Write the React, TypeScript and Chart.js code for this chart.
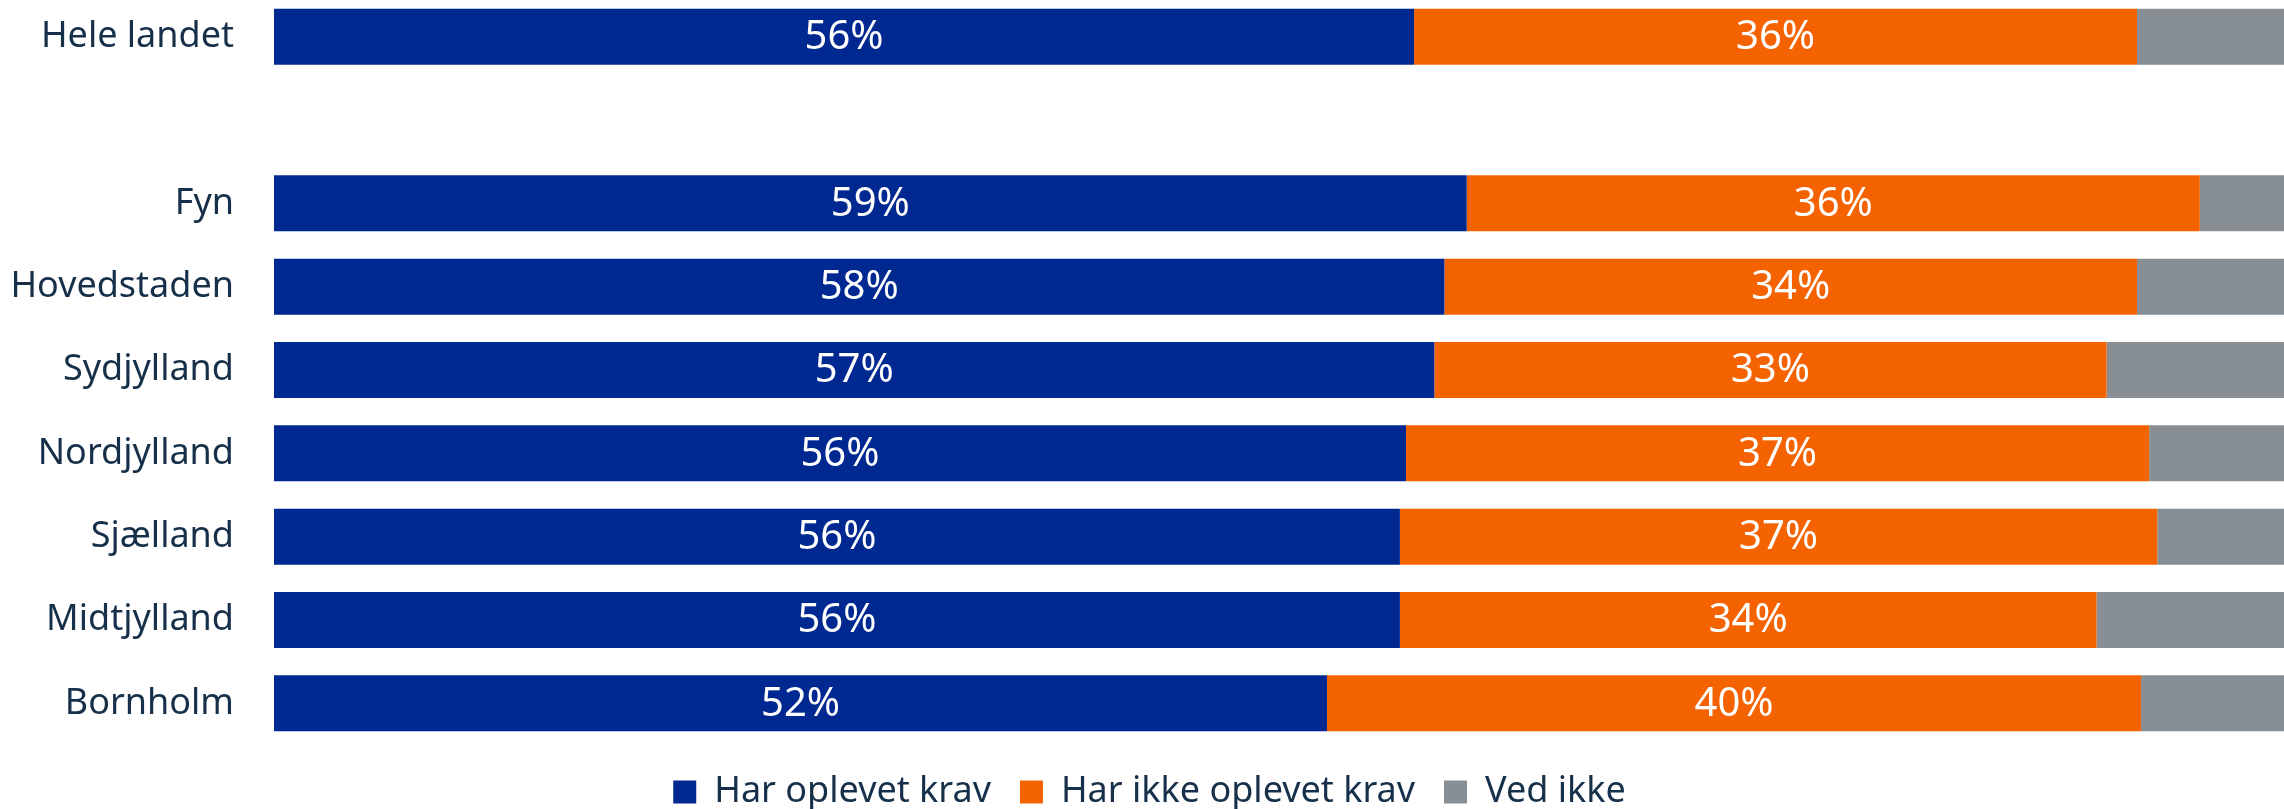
import React, { useEffect, useRef } from 'react';
import { Chart, registerables } from 'chart.js';

Chart.register(...registerables);

// Categories (the empty one is the spacer row between the national total and the regions)
const categories = ['Hele landet', '', 'Fyn', 'Hovedstaden', 'Sydjylland', 'Nordjylland', 'Sjælland', 'Midtjylland', 'Bornholm'];

// Series values (percent of respondents)
const harOplevetKrav = [56.3, null, 58.9, 57.8, 57.3, 55.9, 55.6, 55.6, 52.0];
const harIkkeOplevetKrav = [35.7, null, 36.2, 34.2, 33.2, 36.7, 37.4, 34.4, 40.2];
const vedIkke = [8.0, null, 4.9, 8.0, 9.5, 7.4, 7.0, 10.0, 7.8];

const seriesNames = ['Har oplevet krav', 'Har ikke oplevet krav', 'Ved ikke'];
const seriesColors = ['#002891', '#f46300', '#878e94'];
const seriesLabelled = [true, true, false];

const FONT = '"Noto Sans", "Open Sans", sans-serif';
const TEXT = '#17304a';

const barLabels = {
  id: 'barLabels',
  afterDatasetsDraw(chart: any) {
    const ctx = chart.ctx;
    ctx.save();
    ctx.font = `40px ${FONT}`;
    ctx.fillStyle = '#ffffff';
    ctx.textAlign = 'center';
    ctx.textBaseline = 'middle';
    chart.data.datasets.forEach((ds: any, di: number) => {
      if (!seriesLabelled[di]) return;
      const meta = chart.getDatasetMeta(di);
      meta.data.forEach((el: any, i: number) => {
        const v = ds.data[i];
        if (v == null) return;
        const { x, y, base } = el.getProps(['x', 'y', 'base'], true);
        ctx.fillText(Math.round(v) + '%', (x + base) / 2, y + 1);
      });
    });
    ctx.restore();
  },
};

export default function App() {
  const ref = useRef<HTMLCanvasElement>(null);

  useEffect(() => {
    const values = [harOplevetKrav, harIkkeOplevetKrav, vedIkke];
    const chart = new Chart(ref.current as HTMLCanvasElement, {
      type: 'bar',
      data: {
        labels: categories,
        datasets: values.map((d, i) => ({
          label: seriesNames[i],
          data: d,
          backgroundColor: seriesColors[i],
          borderWidth: 0,
          categoryPercentage: 1,
          barPercentage: 0.672,
        })),
      },
      options: {
        indexAxis: 'y',
        animation: false,
        responsive: true,
        maintainAspectRatio: false,
        layout: { padding: 0 },
        scales: {
          x: {
            stacked: true,
            display: false,
            min: 0,
            max: 100,
          },
          y: {
            stacked: true,
            grid: { display: false, drawTicks: false },
            border: { display: false },
            ticks: {
              color: TEXT,
              font: { family: FONT, size: 36 },
              padding: 40,
            },
            afterFit: (scale: any) => {
              scale.width = 274;
              scale.paddingTop = 0;
              scale.paddingBottom = 0;
            },
          },
        },
        plugins: {
          tooltip: { enabled: false },
          legend: {
            position: 'bottom',
            labels: {
              color: TEXT,
              font: { family: FONT, size: 36 },
              boxWidth: 23,
              boxHeight: 23,
              padding: 29,
            },
          },
        },
      },
      plugins: [barLabels],
    });
    return () => chart.destroy();
  }, []);

  return (
    <div style={{ position: 'fixed', left: 0, top: 0, width: '100vw', height: '100vh', overflow: 'hidden', background: '#ffffff' }}>
      <div style={{ position: 'absolute', left: 0, top: -5, width: 2299, height: 825 }}>
        <canvas ref={ref} />
      </div>
    </div>
  );
}
